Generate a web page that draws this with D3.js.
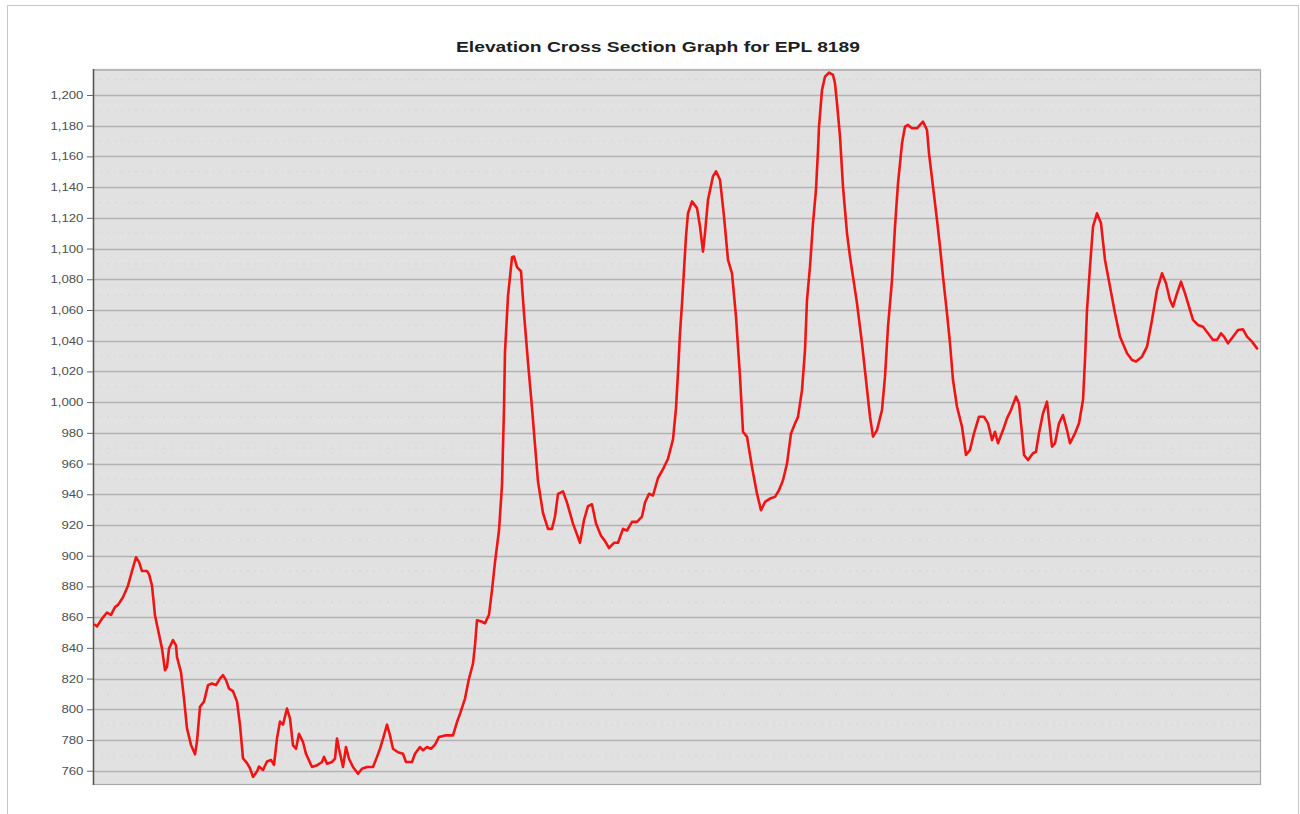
<!DOCTYPE html>
<html>
<head>
<meta charset="utf-8">
<script src="https://cdn.jsdelivr.net/npm/d3@7"></script>
<style>
  html, body { margin: 0; padding: 0; background: #ffffff; }
  svg { display: block; }
</style>
</head>
<body>
<svg id="chart" width="1300" height="814"></svg>
<script>
// ---- Data ----
const chartTitle = "Elevation Cross Section Graph for EPL 8189";

// distance along the section (sample units)
const distance = [
  2, 4, 9, 14, 18, 22, 25, 30, 35, 39, 43, 46, 49, 54, 56, 59, 62, 65, 69, 72,
  74, 76, 80, 83, 84, 88, 91, 94, 98, 102, 104, 107, 111, 115, 119, 123, 127, 130, 133, 136,
  140, 144, 147, 150, 154, 157, 160, 164, 166, 170, 174, 178, 181, 184, 187, 190, 194, 197, 200, 203,
  206, 210, 213, 219, 224, 229, 231, 234, 239, 242, 244, 246, 250, 253, 256, 260, 265, 269, 274, 280,
  284, 287, 291, 294, 297, 300, 305, 310, 313, 319, 322, 327, 330, 334, 338, 342, 346, 352, 357, 360,
  364, 367, 372, 376, 380, 382, 384, 389, 392, 396, 399, 402, 406, 409, 411, 412, 415, 419, 421, 424,
  428, 431, 435, 439, 441, 445, 450, 455, 459, 462, 465, 470, 474, 480, 487, 491, 495, 499, 503, 508,
  512, 516, 521, 525, 530, 534, 539, 544, 549, 552, 556, 560, 565, 570, 575, 580, 583, 585, 587, 589,
  593, 595, 599, 604, 607, 610, 612, 615, 620, 623, 627, 631, 635, 639, 643, 647, 650, 654, 659, 664,
  668, 672, 677, 682, 686, 690, 694, 698, 702, 705, 709, 712, 714, 717, 720, 723, 725, 726, 729, 732,
  736, 740, 742, 744, 747, 750, 754, 757, 760, 764, 769, 773, 777, 780, 784, 789, 792, 795, 799, 802,
  805, 809, 812, 815, 819, 824, 827, 830, 834, 836, 840, 844, 847, 850, 854, 857, 860, 864, 869, 873,
  877, 881, 886, 891, 895, 899, 902, 905, 910, 914, 918, 923, 926, 929, 931, 935, 940, 943, 946, 950,
  954, 956, 959, 962, 966, 970, 974, 977, 982, 986, 990, 992, 994, 997, 1000, 1004, 1008, 1012, 1017, 1022,
  1027, 1034, 1039, 1043, 1049, 1054, 1059, 1064, 1069, 1073, 1077, 1080, 1084, 1088, 1092, 1096, 1100, 1105, 1110, 1115,
  1120, 1124, 1128, 1131, 1135, 1140, 1145, 1150, 1154, 1159, 1164
];

// elevation (m)
const elevation = [
  855, 854, 859, 863, 861.5, 866.5, 868, 873, 880.5, 890, 899, 896, 890, 890, 888, 880.5, 861, 852, 839.5, 825.4,
  827.6, 839.5, 845, 841.6, 834, 824, 807, 787.6, 776.8, 770.7, 779, 801.6, 805, 815.7, 816.8, 815.7, 820, 822.2, 819, 813.5,
  811.8, 805, 789.7, 768, 765, 761.6, 756, 759.5, 762.7, 760.5, 766, 767, 763.8, 781, 792, 790, 800.5, 794, 776.5, 774.3,
  784, 778.7, 771, 762.4, 763.5, 765.7, 769, 764.6, 765.7, 767.8, 781, 774.3, 762.4, 775.4, 767.8, 762.4, 758, 761.3, 762.4, 762.4,
  769, 774.3, 783, 790, 783, 774.3, 772, 771, 765.7, 765.7, 771, 775.4, 773.3, 775.4, 774.3, 777, 782, 783, 783, 783,
  791.7, 797, 807, 820, 829.8, 841.7, 858, 857, 856, 861.6, 877.6, 895.8, 916.4, 946, 996, 1032.7, 1069, 1094.3, 1094.8, 1087.9,
  1085.2, 1057.8, 1025.9, 996.2, 980.2, 948.3, 927.8, 917.5, 917.5, 925.5, 940.3, 941.9, 934.6, 920.9, 908.4, 923.2, 932.3, 933.5, 920.9, 913,
  909.5, 905, 908.4, 908.4, 917.5, 916.4, 922, 922, 925.5, 934.6, 940.3, 939.2, 950.6, 956.3, 963.1, 975.7, 996, 1019, 1045, 1064,
  1108, 1123, 1130.7, 1126.3, 1114.3, 1098, 1110, 1131.7, 1147, 1150.2, 1144.8, 1120.9, 1092.6, 1083.9, 1055.7, 1016.5, 980.7, 977.4, 957.8, 940.4,
  929.6, 935, 937.2, 938.3, 942.6, 949.1, 960, 979.6, 986.1, 990.4, 1007.8, 1033.9, 1066.5, 1088.3, 1116.5, 1138.3, 1164, 1179.4, 1203.3, 1211.9,
  1214.5, 1213, 1207.6, 1194.6, 1172.9, 1140.3, 1109.9, 1094.7, 1081.7, 1064.3, 1038.3, 1014.4, 990.5, 977.5, 981.8, 994.9, 1016.6, 1049.1, 1079.5, 1114.3,
  1142.5, 1168.5, 1179.4, 1180.5, 1178.3, 1178.3, 1180.5, 1182.6, 1177.2, 1162, 1140.3, 1118.6, 1101.2, 1081.7, 1057.8, 1038.3, 1014.4, 997, 984, 965.6,
  968.8, 979.7, 990.5, 990.5, 986.2, 975.3, 980.7, 973.2, 981.8, 989.4, 994.9, 1003.6, 999.2, 979.7, 965.6, 962.3, 966.7, 967.7, 979.7, 992.7,
  1000.3, 988.4, 971, 973.2, 986.2, 991.6, 981.8, 973.2, 979.7, 986.2, 1001.4, 1027.4, 1060, 1088.2, 1114.3, 1122.9, 1116.4, 1092.6, 1075.2, 1057.8,
  1042.6, 1031.8, 1027.4, 1026.4, 1029.6, 1036.1, 1053.5, 1073, 1083.9, 1077.4, 1066.5, 1062.2, 1070.8, 1078.4, 1070.8, 1062.2, 1053.5, 1050.2, 1049.1, 1044.8,
  1040.5, 1040.5, 1044.8, 1042.6, 1038.3, 1042.6, 1047, 1047.4, 1042.6, 1039.4, 1035
];

const yTickValues = [760, 780, 800, 820, 840, 860, 880, 900, 920, 940, 960, 980, 1000,
  1020, 1040, 1060, 1080, 1100, 1120, 1140, 1160, 1180, 1200];

const xDomain = [0, 1168];
const yDomain = [750.7, 1216.9];

// ---- Layout ----
const svg = d3.select("#chart");
const plot = { left: 93, top: 69, right: 1261, bottom: 785 };

const x = d3.scaleLinear().domain(xDomain).range([plot.left, plot.right]);
const y = d3.scaleLinear().domain(yDomain).range([plot.bottom, plot.top]);

// outer frame
svg.append("rect")
  .attr("x", 7.5).attr("y", 5.5)
  .attr("width", 1291).attr("height", 830)
  .attr("fill", "#ffffff")
  .attr("stroke", "#c8c8c8")
  .attr("stroke-width", 1);

// title
const title = svg.append("text")
  .attr("text-anchor", "middle")
  .attr("font-family", "'Liberation Sans', Arial, sans-serif")
  .attr("font-weight", "bold")
  .attr("font-size", 14)
  .attr("fill", "#1e1e1e")
  .text(chartTitle);
const tLen = title.node().getComputedTextLength();
const tScale = 404 / tLen;
title.attr("transform", `translate(658,52) scale(${tScale},1)`);

// plot background
svg.append("rect")
  .attr("x", plot.left).attr("y", plot.top)
  .attr("width", plot.right - plot.left)
  .attr("height", plot.bottom - plot.top)
  .attr("fill", "#e1e1e1");

// faint minor dashed lines
const minor = d3.range(770, 1211, 20);
svg.append("g").selectAll("line").data(minor).join("line")
  .attr("x1", plot.left).attr("x2", plot.right)
  .attr("y1", d => y(d)).attr("y2", d => y(d))
  .attr("stroke", "#d6d6d6")
  .attr("stroke-width", 1)
  .attr("stroke-dasharray", "2,5");

// major gridlines
svg.append("g").selectAll("line").data(yTickValues).join("line")
  .attr("x1", plot.left).attr("x2", plot.right)
  .attr("y1", d => Math.round(y(d)) + 0.5).attr("y2", d => Math.round(y(d)) + 0.5)
  .attr("stroke", "#b3b3b3")
  .attr("stroke-width", 1.3);

// plot border
svg.append("rect")
  .attr("x", plot.left + 0.5).attr("y", plot.top + 0.5)
  .attr("width", plot.right - plot.left - 1)
  .attr("height", plot.bottom - plot.top - 1)
  .attr("fill", "none")
  .attr("stroke", "#a9a9a9")
  .attr("stroke-width", 1.2);

// top darker band
svg.append("line")
  .attr("x1", plot.left).attr("x2", plot.right)
  .attr("y1", plot.top + 1).attr("y2", plot.top + 1)
  .attr("stroke", "#b8b8b8").attr("stroke-width", 2);

// left axis
const yAxis = d3.axisLeft(y)
  .tickValues(yTickValues)
  .tickFormat(d3.format(","))
  .tickSize(6)
  .tickPadding(2);

const gAxis = svg.append("g")
  .attr("transform", `translate(${plot.left},0)`)
  .call(yAxis);
gAxis.select(".domain")
  .attr("d", `M0.5,${plot.top}V${plot.bottom}`)
  .attr("stroke", "#555555")
  .attr("stroke-width", 1.5);
gAxis.selectAll(".tick line").attr("stroke", "#666666");
gAxis.selectAll(".tick text")
  .attr("font-family", "'Liberation Sans', Arial, sans-serif")
  .attr("font-size", 11)
  .attr("fill", "#505050")
  .attr("transform", "scale(1.2,1)");

// elevation line
const points = distance.map((d, i) => ({ d, v: elevation[i] }));
const line = d3.line().x(p => x(p.d)).y(p => y(p.v));

svg.append("path")
  .datum(points)
  .attr("d", line)
  .attr("fill", "none")
  .attr("stroke", "#f21414")
  .attr("stroke-width", 2.6)
  .attr("stroke-linejoin", "round")
  .attr("stroke-linecap", "round");
</script>
</body>
</html>
